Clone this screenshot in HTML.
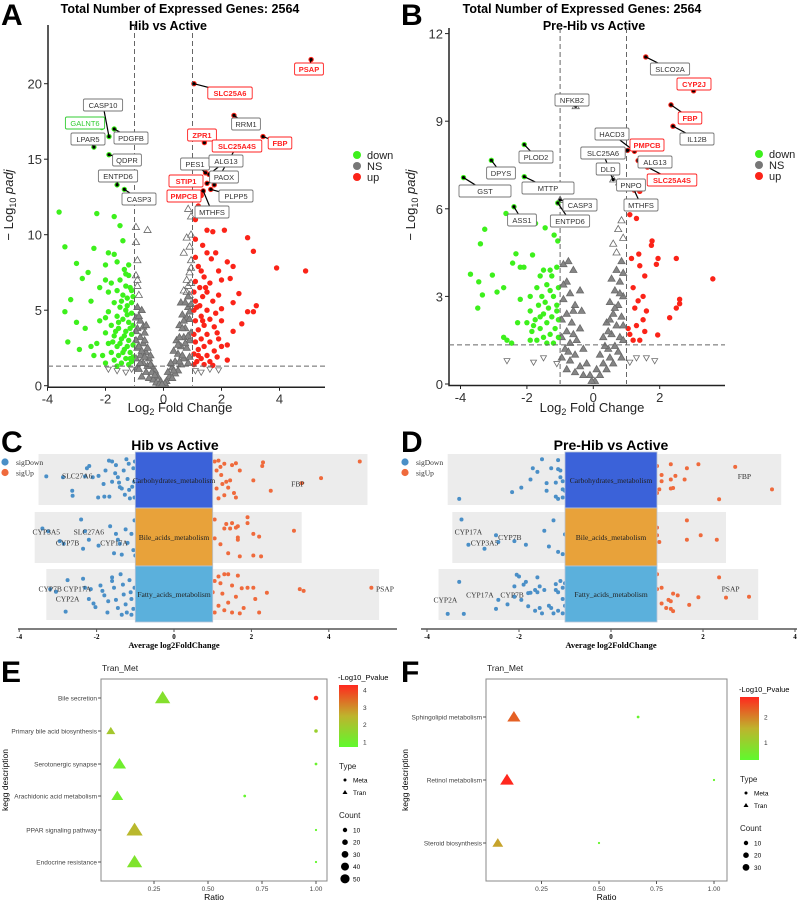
<!DOCTYPE html>
<html><head><meta charset="utf-8"><style>
html,body{margin:0;padding:0;background:#fff;}
svg{display:block;font-family:"Liberation Sans",Arial,sans-serif;}
.serif{font-family:"Liberation Serif",serif;}
</style></head><body>
<svg id="fig" xmlns="http://www.w3.org/2000/svg" width="800" height="901" viewBox="0 0 800 901">
<g font-weight="bold" font-size="30">
<text x="1" y="25">A</text>
<text x="401" y="25">B</text>
<text x="1" y="452">C</text>
<text x="401" y="452">D</text>
<text x="1" y="682">E</text>
<text x="401" y="682">F</text>
</g>
<g font-weight="bold" font-size="12.5" text-anchor="middle">
<text x="180" y="13">Total Number of Expressed Genes: 2564</text>
<text x="168" y="30">Hib vs Active</text>
</g>
<g font-weight="bold" font-size="12.5" text-anchor="middle">
<text x="582" y="13">Total Number of Expressed Genes: 2564</text>
<text x="594" y="30">Pre-Hib vs Active</text>
</g>
<g id="layer"></g>
</svg>
<script>
// ---------- DATA ----------
// Panel A (Hib vs Active): [log2FC, -log10 padj]
const aDown = [[-3.6,11.5],[-2.3,11.4],[-1.7,11.2],[-1.5,10.6],[-3.4,9.2],[-1.4,9.6],[-2.4,9.1],[-1.9,8.8],[-1.7,8.7],[-3.0,8.1],[-2.0,8.0],[-2.6,7.5],[-2.8,7.1],[-1.6,8.2],[-1.2,8.0],[-2.0,7.0],[-1.3,7.4],[-3.2,5.7],[-3.4,4.9],[-2.5,5.6],[-2.2,4.3],[-3.0,4.2],[-2.7,3.8],[-3.3,2.9],[-2.5,2.6],[-2.9,2.4],[-2.3,2.8],[-2.1,2.0],[-1.8,6.8],[-1.5,7.0],[-1.35,7.7],[-1.2,7.3],[-1.15,6.5],[-1.6,6.3],[-1.9,6.2],[-2.2,6.5],[-1.4,6.0],[-1.25,5.8],[-1.1,5.5],[-1.7,5.5],[-1.5,5.2],[-1.3,5.0],[-1.1,4.8],[-1.9,4.9],[-2.0,4.5],[-1.6,4.6],[-1.4,4.4],[-1.2,4.2],[-1.05,4.0],[-1.8,4.0],[-1.55,3.8],[-1.3,3.6],[-1.1,3.4],[-2.0,3.5],[-1.7,3.3],[-1.45,3.1],[-1.2,3.0],[-1.05,2.7],[-1.9,2.8],[-1.6,2.6],[-1.35,2.4],[-1.15,2.2],[-1.8,2.2],[-2.4,2.0],[-1.55,2.0],[-1.3,1.8],[-1.1,1.6],[-1.7,1.7],[-2.0,1.5],[-1.45,1.5],[-1.2,1.4],[-1.6,1.3],[-1.05,1.9],[-1.25,4.7],[-1.45,5.6],[-1.15,3.8],[-1.35,3.3],[-1.5,2.8],[-1.75,2.9],[-1.1,6.3],[-1.3,6.6],[-2.13,17.1],[-1.88,16.5],[-1.7,17.0],[-2.4,15.8],[-1.88,15.3],[-1.6,13.3],[-1.35,13.0],[-1.25,2.6],[-1.4,2.2],[-1.15,1.8],[-1.65,3.6],[-1.25,5.3],[-1.05,5.9],[-1.55,4.2]];
const aUp = [[5.09,21.6],[1.05,20.0],[2.43,17.9],[3.43,16.5],[1.41,16.1],[1.75,13.3],[1.45,14.1],[1.57,14.0],[1.5,13.4],[1.2,13.5],[1.37,12.9],[1.63,13.0],[1.3,12.6],[1.2,11.9],[1.1,11.0],[1.5,10.3],[1.7,10.2],[2.1,10.3],[1.1,9.7],[2.9,9.8],[3.1,8.9],[1.5,8.8],[1.8,8.8],[2.2,8.2],[2.4,7.9],[3.9,7.8],[4.9,7.6],[1.3,7.6],[2.0,7.0],[2.3,7.1],[2.6,6.1],[1.5,6.2],[1.9,6.0],[3.2,5.3],[2.9,4.9],[3.1,4.9],[2.7,4.1],[2.4,3.6],[2.2,2.7],[1.9,3.1],[2.2,1.7],[1.1,8.5],[1.2,7.9],[1.4,7.2],[1.1,6.9],[1.25,6.5],[1.6,6.8],[1.05,6.2],[1.35,5.9],[1.7,5.6],[1.1,5.6],[1.25,5.3],[1.5,5.0],[1.8,4.8],[1.05,5.0],[1.3,4.6],[1.6,4.4],[2.0,4.3],[1.1,4.3],[1.4,4.0],[1.75,3.9],[1.2,3.7],[1.05,3.4],[1.5,3.4],[1.85,3.5],[1.3,3.1],[1.1,2.9],[1.6,2.9],[2.0,2.6],[1.4,2.6],[1.2,2.4],[1.75,2.3],[1.05,2.1],[1.5,2.0],[1.3,1.8],[1.85,1.9],[1.15,1.6],[1.6,1.6],[1.4,1.4],[1.05,1.4],[1.7,1.35],[2.4,5.5],[2.0,5.1],[1.9,7.6],[1.65,8.4],[1.35,9.3],[1.2,2.0],[1.35,4.3],[1.15,5.2],[1.45,6.5]];
const aNS = [[-0.1,0.3],[-0.2,0.6],[-0.3,1.0],[-0.4,1.3],[-0.5,1.8],[-0.6,2.2],[-0.7,2.8],[-0.8,3.2],[-0.9,3.8],[-0.95,4.5],[-0.9,5.2],[-0.85,6.0],[-0.9,6.6],[-0.95,7.3],[-0.9,8.3],[-0.95,9.5],[-0.95,10.5],[-0.55,10.3],[-0.9,1.2],[-0.8,2.0],[-0.7,1.5],[-0.6,0.9],[-0.5,0.5],[-0.35,0.4],[-0.85,1.1],[-0.75,0.6],[-0.65,3.5],[-0.8,4.3],[-0.7,3.9],[-0.9,2.5],[-0.55,2.5],[-0.45,2.0],[-0.95,3.0],[-0.6,4.0],[-0.75,5.0],[-0.9,7.0],[-0.25,0.2],[-0.15,0.1],[-0.65,1.9],[-0.85,2.6],[-0.95,1.8],[-0.75,2.3],[-0.55,1.3],[-0.4,0.9],[-0.85,4.6],[-0.95,3.6],[-0.65,3.0],[-0.8,1.5],[-0.45,1.4],[-0.3,0.7],
[0.1,0.3],[0.2,0.6],[0.3,1.2],[0.4,1.6],[0.5,2.1],[0.6,2.6],[0.7,3.2],[0.75,3.8],[0.8,4.5],[0.85,5.2],[0.9,6.0],[0.95,6.8],[0.9,7.5],[0.95,8.3],[0.9,9.2],[0.95,10.0],[0.95,11.2],[0.85,11.7],[0.7,8.8],[0.6,5.5],[0.55,4.0],[0.65,4.7],[0.45,3.0],[0.35,2.3],[0.25,1.5],[0.15,0.9],[0.5,1.0],[0.7,1.8],[0.8,2.5],[0.9,3.0],[0.95,3.5],[0.85,1.5],[0.6,1.4],[0.4,0.8],[0.7,6.3],[0.8,7.0],[0.85,5.9],[0.9,4.4],[0.75,5.5],[0.55,3.2],[0.65,2.0],[0.9,1.9],[0.85,3.3],[0.95,5.4],[0.7,4.3],[0.3,0.5],[0.05,0.15],[-0.05,0.1],[0.85,6.6],[0.95,7.8],[0.8,9.8],[0.5,2.7],[0.75,2.8],[0.65,3.8],[0.8,6.2],[0.9,4.9],[0.55,1.6],[0.35,1.0]];
const aNSlow = [[-1.6,1.0],[-1.3,0.9],[-1.1,1.1],[1.1,1.0],[1.3,0.9],[1.6,1.1],[-1.9,1.1],[1.9,1.05]];
// Panel B (Pre-Hib vs Active)
const bDown = [[-2.08,8.2],[-3.07,7.66],[-3.91,7.07],[-2.08,7.1],[-2.39,6.07],[-1.07,6.2],[-2.63,5.84],[-3.27,5.3],[-3.4,4.8],[-1.74,5.5],[-1.45,5.35],[-1.18,5.1],[-1.07,4.9],[-2.33,4.46],[-1.83,4.42],[-2.43,4.14],[-2.2,4.0],[-2.09,4.0],[-3.7,3.76],[-3.04,3.73],[-3.45,3.5],[-2.7,3.3],[-2.9,3.15],[-3.34,3.05],[-3.48,2.6],[-2.2,2.9],[-2.28,2.1],[-2.0,2.1],[-2.7,1.6],[-2.46,1.4],[-2.6,1.5],[-1.5,3.9],[-1.3,3.9],[-1.1,4.0],[-1.6,3.7],[-1.25,3.7],[-1.05,3.3],[-1.4,3.4],[-1.7,3.3],[-1.9,3.0],[-1.55,3.0],[-1.2,3.0],[-1.1,2.7],[-1.35,2.6],[-1.65,2.7],[-1.9,2.5],[-1.5,2.4],[-1.25,2.3],[-1.05,2.2],[-1.75,2.2],[-1.4,2.1],[-1.15,1.9],[-1.6,1.9],[-1.85,1.8],[-1.3,1.7],[-1.05,1.6],[-1.5,1.6],[-1.7,1.5],[-1.2,1.4],[-1.4,1.4],[-1.9,1.5],[-1.1,2.5],[-1.3,3.2],[-1.45,2.8],[-1.8,2.0],[-1.6,2.3]];
const bUp = [[1.58,11.2],[3.02,10.04],[2.34,9.56],[2.4,8.83],[1.03,8.0],[1.24,7.97],[1.35,7.65],[1.63,7.43],[1.23,6.64],[1.4,6.6],[1.1,5.8],[1.3,5.67],[1.77,4.9],[1.75,4.75],[1.37,4.45],[1.15,4.3],[1.95,4.3],[2.5,4.3],[1.9,4.1],[1.4,4.05],[1.55,3.7],[3.6,3.6],[1.2,3.3],[1.5,3.0],[2.6,2.9],[2.6,2.75],[1.35,2.85],[2.5,2.6],[1.6,2.5],[2.3,2.27],[1.94,1.68],[1.55,1.8],[1.3,2.0],[1.1,1.7],[1.2,1.5],[1.4,1.5],[1.25,2.6],[1.05,1.9],[1.5,2.2]];
const bNS = [[-0.53,9.51],[-1.0,6.3],[0.6,7.0],[0.78,6.9],[0.5,7.3],[0.85,5.6],[0.75,5.3],[0.9,5.0],[0.6,4.8],[0.7,4.5],[0.85,4.2],[0.9,3.8],[0.55,3.6],[0.8,3.5],[0.65,3.2],[0.9,3.0],[0.5,2.8],[0.75,2.7],[0.6,2.4],[0.85,2.3],[0.4,2.1],[0.7,2.0],[0.3,1.6],[0.55,1.7],[0.8,1.6],[0.2,1.0],[0.45,1.2],[0.65,1.3],[0.9,1.5],[0.1,0.5],[0.3,0.7],[0.5,0.9],[0.75,1.1],[0.05,0.1],[0.2,0.3],[0.4,0.5],[0.6,0.7],[0.85,0.9],
[-0.9,4.1],[-0.75,4.2],[-0.6,3.9],[-0.8,3.5],[-0.4,3.2],[-0.7,3.1],[-0.9,2.9],[-0.55,2.7],[-0.8,2.4],[-0.95,2.2],[-0.65,2.1],[-0.4,1.9],[-0.8,1.8],[-0.5,1.5],[-0.95,1.6],[-0.7,1.4],[-0.3,1.2],[-0.85,1.2],[-0.55,1.0],[-0.2,0.7],[-0.4,0.6],[-0.7,0.8],[-0.95,0.9],[-0.1,0.3],[-0.3,0.3],[-0.55,0.4],[-0.8,0.5],[-0.05,0.1],[-0.35,2.5],[-0.9,3.4],[-0.6,2.5],[0.7,3.9],[0.5,2.2],[0.35,1.3],[-0.75,1.1],[-0.6,1.7],[0.65,2.6],[0.8,3.1],[0.45,1.8],[0.9,2.0]];
const bNSlow = [[-2.6,0.8],[-1.5,0.9],[-1.1,0.7],[-1.8,0.75],[1.3,0.9],[1.6,0.9],[1.1,0.75],[1.85,0.8]];

// Volcano labels: [text, boxCenterX(px), boxCenterY(px), gene log2FC, gene -log10padj, colour]
const aLabels = [["CASP10",103,105,-1.88,16.5,"g"],["GALNT6",85,123,-2.13,17.1,"G"],["LPAR5",88,139,-2.4,15.8,"g"],["PDGFB",131,138,-1.7,17.0,"g"],["QDPR",127,160,-1.88,15.3,"g"],["ENTPD6",118,176,-1.6,13.3,"g"],["CASP3",139,199,-1.35,13.0,"g"],
["PSAP",309,69,5.09,21.6,"r"],["SLC25A6",230,93,1.05,20.0,"r"],["RRM1",246,124,2.43,17.9,"g"],["ZPR1",202,135,1.41,16.1,"r"],["FBP",280,143,3.43,16.5,"r"],["SLC25A4S",237,146,1.75,13.3,"r"],["PES1",195,164,1.45,14.1,"g"],["ALG13",226,161,1.57,14.0,"g"],["PAOX",224,177,1.5,13.4,"g"],["STIP1",186,181,1.2,13.5,"r"],["PMPCB",184,196,1.37,12.9,"r"],["PLPP5",236,196,1.63,13.0,"g"],["MTHFS",212,212,1.37,12.9,"g"]];
const bLabels = [["SLCO2A",670,69,1.58,11.2,"g"],["CYP2J",694,84,3.02,10.04,"r"],["NFKB2",572,100,-0.53,9.51,"g"],["FBP",690,118,2.34,9.56,"r"],["HACD3",612,134,1.24,7.97,"g"],["IL12B",697,139,2.4,8.83,"g"],["PMPCB",647,145,1.03,8.0,"r"],["PLOD2",536,157,-2.08,8.2,"g"],["SLC25A6",603,153,0.5,7.3,"g"],["ALG13",655,162,1.35,7.65,"g"],["DPYS",501,173,-3.07,7.66,"g"],["DLD",608,169,0.6,7.0,"g"],["SLC25A4S",672,180,1.63,7.43,"r"],["PNPO",631,185,0.78,6.9,"g"],["GST",485,191,-3.91,7.07,"g"],["MTTP",548,188,-2.08,7.1,"g"],["CASP3",580,205,-1.0,6.3,"g"],["MTHFS",641,205,1.23,6.64,"g"],["ASS1",522,220,-2.39,6.07,"g"],["ENTPD6",570,221,-1.07,6.2,"g"]];

// Panels C/D: categories and dot values [log2FC, jitter 0..1]
const pathways = ["Carbohydrates_metabolism","Bile_acids_metabolism","Fatty_acids_metabolism"];
const pathwayColors = ["#3b62d9","#e8a23a","#5bb0dc"];
const cBand = [[-3.5,5.0],[-3.6,3.3],[-3.3,5.3]];
const cDown = [
 [[-3.3,0.43],[-2.87,0.45],[-2.63,0.75],[-2.62,0.86],[-2.19,0.2],[-2.25,0.25],[-2.3,0.43],[-2.1,0.45],[-1.95,0.42],[-1.96,0.9],[-1.8,0.88],[-1.67,0.88],[-1.82,0.6],[-1.77,0.3],[-1.68,0.08],[-1.6,0.1],[-1.5,0.18],[-1.52,0.36],[-1.45,0.45],[-1.42,0.57],[-1.4,0.67],[-1.3,0.3],[-1.27,0.84],[-1.23,0.05],[-1.17,0.15],[-1.2,0.49],[-1.16,0.73],[-1.08,0.66],[-1.14,0.92],[-1.05,0.25],[-1.03,0.55],[-1.02,0.9],[-1.01,0.1],[-1.35,0.7],[-1.6,0.55]],
 [[-3.4,0.3],[-3.25,0.36],[-2.95,0.58],[-2.85,0.64],[-2.4,0.1],[-2.3,0.36],[-2.2,0.55],[-2.35,0.75],[-1.95,0.68],[-1.65,0.25],[-1.5,0.42],[-1.45,0.55],[-1.4,0.64],[-1.55,0.85],[-1.35,0.88],[-1.2,0.62],[-1.1,0.42],[-1.05,0.78],[-1.02,0.12],[-1.0,0.9],[-1.25,0.32]],
 [[-3.2,0.38],[-3.05,0.44],[-2.75,0.18],[-2.8,0.88],[-2.35,0.15],[-2.3,0.35],[-2.15,0.38],[-2.2,0.6],[-2.08,0.7],[-2.03,0.78],[-1.9,0.3],[-1.85,0.42],[-1.8,0.52],[-1.72,0.9],[-1.6,0.12],[-1.55,0.35],[-1.5,0.62],[-1.45,0.8],[-1.38,0.05],[-1.32,0.28],[-1.3,0.5],[-1.25,0.72],[-1.22,0.9],[-1.15,0.18],[-1.12,0.45],[-1.1,0.6],[-1.05,0.82],[-1.02,0.35],[-1.6,0.2],[-1.7,0.65],[-1.35,0.95],[-1.1,0.95]]];
const cUp = [
 [[1.05,0.1],[1.15,0.08],[1.3,0.15],[1.5,0.18],[1.6,0.14],[2.3,0.12],[2.28,0.2],[1.1,0.3],[1.22,0.4],[1.35,0.55],[1.45,0.52],[1.25,0.6],[1.4,0.68],[1.1,0.7],[1.55,0.8],[1.3,0.85],[1.15,0.92],[1.6,0.9],[2.05,0.52],[2.5,0.75],[3.3,0.58],[3.8,0.47],[4.8,0.1],[1.7,0.3],[1.2,0.22]],
 [[1.05,0.1],[1.35,0.2],[1.5,0.18],[1.65,0.25],[1.9,0.05],[1.9,0.18],[1.3,0.3],[1.45,0.3],[1.6,0.28],[3.1,0.35],[2.05,0.42],[2.2,0.48],[1.65,0.55],[1.05,0.52],[1.2,0.65],[1.4,0.85],[1.7,0.92],[2.05,0.9],[2.25,0.92],[1.65,0.5]],
 [[1.15,0.1],[1.3,0.05],[1.4,0.05],[1.65,0.08],[1.05,0.2],[1.2,0.25],[1.5,0.3],[1.9,0.35],[2.05,0.35],[1.75,0.36],[2.4,0.46],[3.25,0.38],[3.35,0.42],[5.1,0.35],[1.0,0.45],[1.25,0.48],[1.6,0.55],[2.1,0.6],[1.4,0.68],[1.15,0.75],[1.8,0.8],[1.3,0.85],[1.5,0.9],[1.7,0.92],[2.2,0.9],[1.05,0.9]]];
const cLabels = [[0,-2.5,0.42,"SLC27A6"],[0,3.2,0.58,"FBP"],[1,-3.3,0.38,"CYP3A5"],[1,-2.75,0.6,"CYP7B"],[1,-2.2,0.38,"SLC27A6"],[1,-1.55,0.6,"CYP17A"],[2,-3.2,0.38,"CYP7B"],[2,-2.5,0.38,"CYP17A"],[2,-2.75,0.58,"CYP2A"],[2,5.45,0.38,"PSAP"]];
const dBand = [[-3.55,3.7],[-3.45,2.5],[-3.75,3.2]];
const dDown = [
 [[-1.5,0.05],[-1.15,0.07],[-1.7,0.25],[-1.3,0.25],[-1.15,0.27],[-1.6,0.33],[-1.1,0.3],[-1.75,0.5],[-1.4,0.58],[-1.2,0.57],[-1.05,0.54],[-1.95,0.68],[-2.15,0.78],[-1.4,0.75],[-1.05,0.72],[-1.0,0.75],[-1.2,0.88],[-1.15,0.93],[-1.05,0.9],[-3.3,0.93],[-1.1,0.45]],
 [[-3.25,0.1],[-1.25,0.12],[-1.45,0.35],[-1.0,0.43],[-2.5,0.45],[-2.45,0.6],[-2.1,0.58],[-3.1,0.66],[-1.85,0.66],[-1.35,0.7],[-2.75,0.75],[-1.15,0.82],[-1.05,0.87]],
 [[-2.05,0.06],[-2.0,0.1],[-1.6,0.12],[-3.3,0.22],[-1.85,0.22],[-1.9,0.28],[-2.1,0.32],[-1.55,0.32],[-1.2,0.27],[-1.1,0.2],[-1.0,0.25],[-1.65,0.4],[-1.45,0.4],[-1.2,0.4],[-1.05,0.35],[-1.75,0.46],[-1.6,0.45],[-1.15,0.45],[-1.8,0.47],[-2.1,0.55],[-2.45,0.62],[-1.95,0.62],[-1.05,0.6],[-2.25,0.72],[-1.8,0.76],[-1.0,0.75],[-2.5,0.82],[-1.55,0.8],[-1.3,0.8],[-1.65,0.86],[-1.15,0.86],[-3.55,0.93],[-3.2,0.93],[-1.5,0.92],[-1.25,0.92],[-1.05,0.92],[-1.35,0.75]]];
const dUp = [
 [[1.0,0.2],[1.3,0.16],[1.65,0.25],[1.9,0.16],[2.7,0.22],[1.1,0.4],[1.4,0.42],[1.3,0.5],[1.6,0.5],[1.1,0.54],[1.3,0.7],[1.05,0.72],[1.35,0.69],[3.5,0.72],[2.35,0.94],[1.0,0.8]],
 [[1.65,0.12],[1.0,0.28],[1.0,0.45],[1.95,0.45],[1.65,0.55],[2.3,0.55],[1.05,0.6]],
 [[1.0,0.05],[2.35,0.12],[1.1,0.35],[1.0,0.38],[1.35,0.48],[1.45,0.52],[1.9,0.56],[2.5,0.57],[3.0,0.55],[1.25,0.62],[1.3,0.65],[1.1,0.7],[1.7,0.73],[1.2,0.8],[1.3,0.82],[1.35,0.87]]];
const dLabels = [[0,2.9,0.43,"FBP"],[1,-3.1,0.38,"CYP17A"],[1,-2.75,0.6,"CYP3A5"],[1,-2.2,0.49,"CYP7B"],[2,-3.6,0.6,"CYP2A"],[2,-2.85,0.5,"CYP17A"],[2,-2.15,0.5,"CYP7B"],[2,2.6,0.38,"PSAP"]];

// Panels E/F (KEGG)
const eTerms = ["Bile secretion","Primary bile acid biosynthesis","Serotonergic synapse","Arachidonic acid metabolism","PPAR signaling pathway","Endocrine resistance"];
const eTranRatio = [0.29,0.05,0.09,0.08,0.16,0.16];
const eTranCount = [40,14,30,24,45,40];
const eTranP = [1.4,2.0,1.0,1.0,2.4,1.3];
const eMetaRatio = [1.0,1.0,1.0,0.67,1.0,1.0];
const eMetaCount = [8,5,3,3,2,2];
const eMetaP = [4.2,1.8,0.9,0.8,0.8,0.8];
const fTerms = ["Sphingolipid metabolism","Retinol metabolism","Steroid biosynthesis"];
const fTranRatio = [0.13,0.10,0.06];
const fTranCount = [30,32,20];
const fTranP = [2.3,2.8,1.7];
const fMetaRatio = [0.67,1.0,0.5];
const fMetaCount = [3,2,2];
const fMetaP = [0.4,0.4,0.4];

// ---------- DRAW ----------
const NS="http://www.w3.org/2000/svg";
const layer=document.getElementById('layer');
function mk(tag,attrs,parent){const e=document.createElementNS(NS,tag);for(const k in attrs)e.setAttribute(k,attrs[k]);(parent||layer).appendChild(e);return e;}
function txt(s,attrs,parent){const e=mk('text',attrs,parent);e.textContent=s;return e;}
function grp(name){const g=mk('g',{});


return g;}

// axis functions
const xA=v=>163.5+29*v, yA=v=>385.7-15.1*v;
const xB=v=>593.3+33.2*v, yB=v=>384-29.2*v;
const xC=v=>174+38.7*v, xD=v=>611+46*v;
const xE=v=>100+216*v, xF=v=>484+230*v;

function volcano(id,xs,ys,down,up,ns,nslow,labels,xt,yTicks,x0,x1,yTop,hTh,legX,legY,fillBelow){
  const g=grp(id+'-plot');
  const ax=mk('path',{d:`M${x0},${yTop} V${ys(0)+1.5} H${x1}`,stroke:'#222',fill:'none','stroke-width':1.5},g);
  
  
  xt.forEach(v=>{mk('line',{x1:xs(v),x2:xs(v),y1:ys(0)+1.5,y2:ys(0)+5,stroke:'#222'},g);
    const t=txt(String(v),{x:xs(v),y:ys(0)+18,'font-size':13,'text-anchor':'middle',fill:'#333'},g);
    
    });
  yTicks.forEach(v=>{mk('line',{x1:x0-4,x2:x0,y1:ys(v),y2:ys(v),stroke:'#222'},g);
    const t=txt(String(v),{x:x0-6,y:ys(v)+5,'font-size':13,'text-anchor':'end',fill:'#333'},g);
    
    });
  const pts=grp(id+'-points'); g.appendChild(pts);
  ns.forEach(p=>{const X=xs(p[0]),Y=ys(p[1]);
    const m=mk('path',{d:`M${X},${Y-3.8}L${X+3.6},${Y+2.4}L${X-3.6},${Y+2.4}Z`,fill:p[1]<fillBelow?'#858585':'none',stroke:'#6a6a6a','stroke-width':0.8},pts);
    
    });
  nslow.forEach(p=>{const X=xs(p[0]),Y=ys(p[1]);
    const m=mk('path',{d:`M${X},${Y+3.2}L${X+3},${Y-2}L${X-3},${Y-2}Z`,fill:'none',stroke:'#6d6d6d','stroke-width':0.8},pts);
    
    });
  down.forEach(p=>{const m=mk('circle',{cx:xs(p[0]),cy:ys(p[1]),r:2.7,fill:'#3df01c'},pts);
    
    });
  up.forEach(p=>{const m=mk('circle',{cx:xs(p[0]),cy:ys(p[1]),r:2.7,fill:'#fb2318'},pts);
    
    });
  [-1,1].forEach(v=>mk('line',{x1:xs(v),x2:xs(v),y1:yTop,y2:ys(0),stroke:'#666','stroke-dasharray':'5,3','stroke-width':1},g));
  mk('line',{x1:x0,x2:x1,y1:ys(hTh),y2:ys(hTh),stroke:'#666','stroke-dasharray':'5,3','stroke-width':1},g);
  const lg=grp(id+'-gene-labels'); g.appendChild(lg);
  labels.forEach(l=>{const px=xs(l[3]),py=ys(l[4]);
    mk('line',{x1:px,y1:py,x2:l[1],y2:l[2],stroke:'#000','stroke-width':1.2},lg);
    mk('circle',{cx:px,cy:py,r:1.6,fill:'#000'},lg);});
  labels.forEach(l=>{const col=l[5]==='r'?'#f22':l[5]==='G'?'#3c3':'#444';
    const w=l[0].length*5.2+8;
    const tw=(l[0]==='GST'||l[0]==='MTTP')?52:w;
    mk('rect',{x:l[1]-tw/2,y:l[2]-6,width:tw,height:12,rx:1.5,fill:'#fff',stroke:col==='#444'?'#777':col,'stroke-width':0.9},lg);
    const t=txt(l[0],{x:l[1],y:l[2]+3,'font-size':7.5,'text-anchor':'middle',fill:col==='#444'?'#333':col,'font-weight':l[5]==='r'?'bold':'normal'},lg);
    
    });
  const L=grp(id+'-legend'); g.appendChild(L);
  [['down','#3df01c'],['NS','#777'],['up','#fb2318']].forEach((e,i)=>{
    mk('circle',{cx:legX,cy:legY+i*11,r:4,fill:e[1]},L);
    const t=txt(e[0],{x:legX+10,y:legY+i*11+4,'font-size':11,fill:'#222'},L);
    
    });
  return g;
}
volcano('volcano-a',xA,yA,aDown,aUp,aNS,aNSlow,aLabels,[-4,-2,0,2,4],[0,5,10,15,20],48,325,25,1.3,357,155,6);
volcano('volcano-b',xB,yB,bDown,bUp,bNS,bNSlow,bLabels,[-4,-2,0,2],[0,3,6,9,12],449,725,28,1.34,759,154,4.5);
[[180,412,'volcano-a-x-title'],[592,412,'volcano-b-x-title']].forEach(a=>{
  const t=mk('text',{x:a[0],y:a[1],'font-size':13,'text-anchor':'middle',fill:'#222'});
  
  
  t.innerHTML='Log<tspan font-size="9" dy="3">2</tspan><tspan dy="-3"> Fold Change</tspan>';});
[[13,205,'volcano-a-y-title'],[415,205,'volcano-b-y-title']].forEach(a=>{
  const t=mk('text',{x:a[0],y:a[1],'font-size':13,'text-anchor':'middle',fill:'#222',transform:`rotate(-90 ${a[0]} ${a[1]})`});
  
  
  t.innerHTML='− Log<tspan font-size="9" dy="3">10</tspan><tspan dy="-3"> </tspan><tspan font-style="italic">padj</tspan>';});

// C / D
const bandY=[[454,505],[512,563],[569,620]];
const barY=[[452,508],[508,566],[566,622]];
function lanes(id,xs,title,titleX,band,down,up,labs,ticks,axX0,axX1){
  const g=grp(id);
  txt(title,{x:titleX,y:450,'font-size':14,'font-weight':'bold','text-anchor':'middle'},g);
  band.forEach((b,i)=>{const r=mk('rect',{x:xs(b[0]),y:bandY[i][0],width:xs(b[1])-xs(b[0]),height:bandY[i][1]-bandY[i][0],fill:'#ececec'},g);
    
    });
  const dot=(p,i,c,nm)=>{const m=mk('circle',{cx:xs(p[0]),cy:bandY[i][0]+3+p[1]*(bandY[i][1]-bandY[i][0]-6),r:2,fill:c},g);
    
    };
  down.forEach((arr,i)=>arr.forEach(p=>dot(p,i,'#4a8fc7','sigdown-point')));
  up.forEach((arr,i)=>arr.forEach(p=>dot(p,i,'#ef6a3c','sigup-point')));
  pathways.forEach((n,i)=>{const r=mk('rect',{x:xs(-1),y:barY[i][0],width:xs(1)-xs(-1),height:barY[i][1]-barY[i][0],fill:pathwayColors[i],stroke:'#b8c4d8','stroke-width':0.8},g);
    
    
    const t=txt(n,{x:xs(0),y:(barY[i][0]+barY[i][1])/2+3,'font-size':7.5,'text-anchor':'middle',class:'serif',fill:'#222'},g);
    
    });
  labs.forEach(l=>{const t=txt(l[3],{x:xs(l[1]),y:bandY[l[0]][0]+l[2]*51+3,'font-size':7.5,'text-anchor':'middle',class:'serif',fill:'#333'},g);
    
    });
  mk('line',{x1:axX0,x2:axX1,y1:629,y2:629,stroke:'#555','stroke-width':1.5},g);
  ticks.forEach(v=>{mk('line',{x1:xs(v),x2:xs(v),y1:629,y2:632,stroke:'#555'},g);
    const t=txt(String(v),{x:xs(v),y:639,'font-size':7,'font-weight':'bold','text-anchor':'middle',class:'serif'},g);
    
    });
  const at=txt('Average log2FoldChange',{x:xs(0),y:648,'font-size':8.5,'font-weight':'bold','text-anchor':'middle',class:'serif'},g);
  
  
  const lx=axX0<300?5:405;
  [['sigDown','#4a8fc7'],['sigUp','#ef6a3c']].forEach((e,i)=>{mk('circle',{cx:lx,cy:462+i*10.5,r:3.6,fill:e[1]},g);
    const t=txt(e[0],{x:lx+11,y:465+i*10.5,'font-size':7.5,class:'serif',fill:'#333'},g);
    
    });
}
lanes('lanes-c',xC,'Hib vs Active',175,cBand,cDown,cUp,cLabels,[-4,-2,0,2,4],18,397);
lanes('lanes-d',xD,'Pre-Hib vs Active',611,dBand,dDown,dUp,dLabels,[-4,-2,0,2,4],421,797);

// E / F
function pcol(v,lo,hi){let t=Math.max(0,Math.min(1,(v-lo)/(hi-lo)));
  const a=[95,250,45],m=[190,180,45],b=[255,40,30];let c;
  if(t<0.5){const s=t/0.5;c=a.map((x,i)=>x+(m[i]-x)*s);}else{const s=(t-0.5)/0.5;c=m.map((x,i)=>x+(b[i]-x)*s);}
  return `rgb(${c.map(Math.round).join(',')})`;}
function kegg(id,xs,terms,tr,tc,tp,mr,mc,mp,x0,x1,rows,lo,hi,legX,cbTop,cbBot,cbTicks,counts){
  const g=grp(id);
  txt('Tran_Met',{x:x0+1,y:671,'font-size':8.5,fill:'#222'},g);
  mk('rect',{x:x0,y:679,width:x1-x0,height:202,fill:'none',stroke:'#888','stroke-width':1},g);
  terms.forEach((n,i)=>{mk('line',{x1:x0-3,x2:x0,y1:rows[i],y2:rows[i],stroke:'#555'},g);
    const t=txt(n,{x:x0-4,y:rows[i]+2.5,'font-size':6.5,'text-anchor':'end',fill:'#444'},g);
    
    });
  [0.25,0.5,0.75,1].forEach(v=>{mk('line',{x1:xs(v),x2:xs(v),y1:881,y2:884,stroke:'#555'},g);
    const t=txt(v.toFixed(2),{x:xs(v),y:891,'font-size':6.5,'text-anchor':'middle',fill:'#444'},g);
    
    });
  txt('Ratio',{x:(x0+x1)/2,y:900,'font-size':8.5,'text-anchor':'middle'},g);
  const yx=id==='kegg-f'?408:8;
  const yt=txt('kegg description',{x:yx,y:780,'font-size':8.5,'text-anchor':'middle',transform:`rotate(-90 ${yx} 780)`},g);
  
  
  tr.forEach((r,i)=>{const X=xs(r),Y=rows[i],s=Math.sqrt(tc[i])*1.1;
    const m=mk('path',{d:`M${X},${Y-s}L${X+s*1.1},${Y+s*0.75}L${X-s*1.1},${Y+s*0.75}Z`,fill:pcol(tp[i],lo,hi)},g);
    
    });
  mr.forEach((r,i)=>{const m=mk('circle',{cx:xs(r),cy:rows[i],r:Math.sqrt(mc[i])*0.8,fill:pcol(mp[i],lo,hi)},g);
    
    });
  txt('-Log10_Pvalue',{x:legX-1,y:cbTop-5,'font-size':7.5},g);
  const gid=id+'-grad';const defs=mk('defs',{},g);const lg=mk('linearGradient',{id:gid,x1:0,y1:1,x2:0,y2:0},defs);
  mk('stop',{offset:0,'stop-color':pcol(lo,lo,hi)},lg);mk('stop',{offset:0.5,'stop-color':pcol((lo+hi)/2,lo,hi)},lg);mk('stop',{offset:1,'stop-color':pcol(hi,lo,hi)},lg);
  mk('rect',{x:legX,y:cbTop,width:19,height:cbBot-cbTop,fill:`url(#${gid})`},g);
  cbTicks.forEach(v=>{const Y=cbBot-(v-lo)/(hi-lo)*(cbBot-cbTop);
    txt(String(v),{x:legX+24,y:Y+2.5,'font-size':6.5,fill:'#333'},g);});
  let y=cbBot+22;
  txt('Type',{x:legX,y:y,'font-size':8,fill:'#222'},g);
  mk('circle',{cx:legX+6,cy:y+11,r:1.5,fill:'#000'},g);txt('Meta',{x:legX+14,y:y+13.5,'font-size':6.5},g);
  mk('path',{d:`M${legX+6},${y+21}L${legX+8.5},${y+25}L${legX+3.5},${y+25}Z`,fill:'#000'},g);txt('Tran',{x:legX+14,y:y+26,'font-size':6.5},g);
  y+=49;
  txt('Count',{x:legX,y:y,'font-size':8,fill:'#222'},g);
  counts.forEach((c,i)=>{mk('circle',{cx:legX+6,cy:y+12+i*12.2,r:2.2+i*0.6,fill:'#000'},g);
    txt(String(c),{x:legX+14,y:y+14.5+i*12.2,'font-size':6.5},g);});
}
kegg('kegg-e',xE,eTerms,eTranRatio,eTranCount,eTranP,eMetaRatio,eMetaCount,eMetaP,101,327,[698,731,764,796,830,862],0.7,4.3,339,685,747,[1,2,3,4],[10,20,30,40,50]);
kegg('kegg-f',xF,fTerms,fTranRatio,fTranCount,fTranP,fMetaRatio,fMetaCount,fMetaP,486,727,[717,780,843],0.3,2.8,740,697,760,[1,2],[10,20,30]);
</script>
</body></html>
